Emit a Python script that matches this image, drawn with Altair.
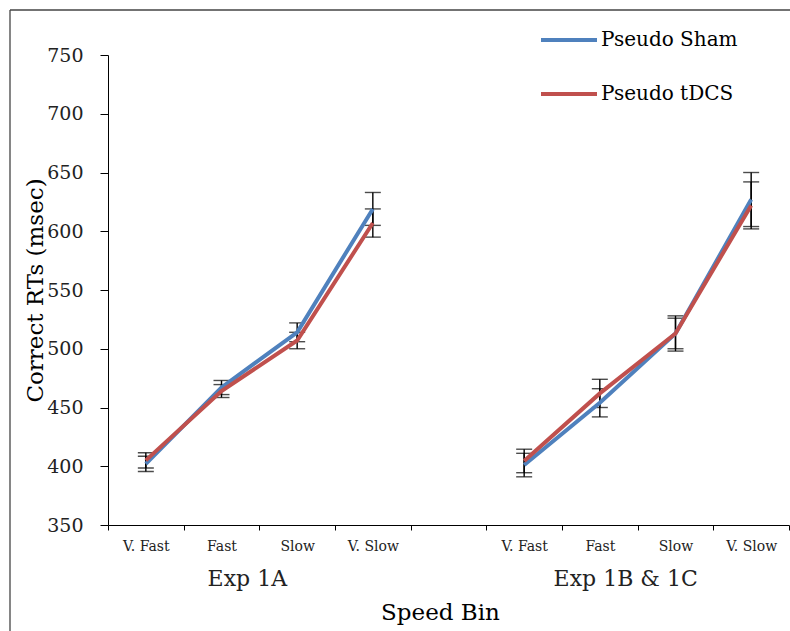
import altair as alt
import pandas as pd

# ---- data ----
bins = ["V. Fast", "Fast", "Slow", "V. Slow"]
exps = ["1A", "1B"]
exp_titles = ["Exp 1A", "Exp 1B & 1C"]
series = ["Pseudo Sham", "Pseudo tDCS"]

sham_1a = [402, 467, 514, 619]
sham_1a_err = [6.5, 6, 8, 14]
tdcs_1a = [405, 464, 507, 607]
tdcs_1a_err = [6.5, 5.5, 7, 12]
sham_1b = [401, 454, 513, 627]
sham_1b_err = [10, 12, 15, 23]
tdcs_1b = [404.5, 462, 513, 622]
tdcs_1b_err = [10, 12, 13, 20]

y_ticks = [350, 400, 450, 500, 550, 600, 650, 700, 750]

# ---- build table ----
domain = [f"1A|{b}" for b in bins] + ["gap"] + [f"1B|{b}" for b in bins]
rows = []
for s, e, vals, errs in [
    (series[0], "1A", sham_1a, sham_1a_err),
    (series[1], "1A", tdcs_1a, tdcs_1a_err),
    (series[0], "1B", sham_1b, sham_1b_err),
    (series[1], "1B", tdcs_1b, tdcs_1b_err),
]:
    for i, (b, v, er) in enumerate(zip(bins, vals, errs)):
        rows.append({"series": s, "exp": e, "cat": f"{e}|{b}", "idx": i,
                     "rt": v, "lo": v - er, "hi": v + er})
df = pd.DataFrame(rows)
groups = pd.DataFrame({"cat": ["1A|Fast", "1B|Fast"], "label": exp_titles})

FONT = "DejaVu Serif"

xscale = alt.Scale(domain=domain, paddingInner=0, paddingOuter=0)
xenc = alt.X("cat:N", scale=xscale,
             axis=alt.Axis(title="Speed Bin", tickBand="extent", labelAngle=0,
                           labelExpr="isString(datum.value) && indexof(datum.value,'|')>=0 ? split(datum.value,'|')[1] : ''",
                           labelFont=FONT, labelFontSize=14, labelColor="#222",
                           labelPadding=9, tickSize=5, tickColor="black",
                           domainColor="black", grid=False,
                           titleFont=FONT, titleFontSize=23, titleFontWeight="normal",
                           titleColor="black", titleX=332, titleY=94,
                           titleBaseline="alphabetic", titleAlign="center"))
yscale = alt.Scale(domain=[350, 750], nice=False, zero=False)
yaxis = alt.Axis(title="Correct RTs (msec)", values=y_ticks, grid=False,
                 labelFont=FONT, labelFontSize=19, labelColor="#222",
                 labelPadding=17, tickSize=8, tickColor="black", domainColor="black",
                 titleFont=FONT, titleFontSize=23, titleFontWeight="normal",
                 titleColor="black", titleX=-73, titleY=235, titleAngle=270,
                 titleBaseline="middle", titleAlign="center")

base = alt.Chart(df)

err_rule = base.mark_rule(color="black", strokeWidth=1.4).encode(
    x=xenc, y=alt.Y("lo:Q", scale=yscale, axis=yaxis), y2="hi:Q")
cap_lo = base.mark_tick(color="black", size=16, thickness=1.4, orient="horizontal").encode(
    x=xenc, y=alt.Y("lo:Q", scale=yscale, axis=yaxis))
cap_hi = base.mark_tick(color="black", size=16, thickness=1.4, orient="horizontal").encode(
    x=xenc, y=alt.Y("hi:Q", scale=yscale, axis=yaxis))

lines = base.mark_line(strokeWidth=4).encode(
    x=xenc,
    y=alt.Y("rt:Q", scale=yscale, axis=yaxis),
    color=alt.Color("series:N",
                    scale=alt.Scale(domain=series, range=["#4F81BD", "#C0504D"]),
                    legend=alt.Legend(title=None, orient="none", legendX=431, legendY=-45,
                                      symbolType="stroke", symbolSize=3136,
                                      symbolStrokeWidth=4, labelFont=FONT,
                                      labelFontSize=20, labelColor="black",
                                      labelOffset=2, rowPadding=14, padding=0)),
    detail="exp:N",
    order="idx:Q",
)

group_text = alt.Chart(groups).mark_text(
    font=FONT, fontSize=22, color="#222", baseline="alphabetic", dx=-12
).encode(x=alt.X("cat:N", scale=xscale, bandPosition=1),
         y=alt.value(531), text="label:N")

frame = alt.Chart(pd.DataFrame({"a": [0]}))
frame_left = frame.mark_rule(color="#444", strokeWidth=1.3).encode(
    x=alt.value(-98), y=alt.value(-45), y2=alt.value(700))
frame_top = frame.mark_rule(color="#444", strokeWidth=1.3).encode(
    x=alt.value(-98), x2=alt.value(800), y=alt.value(-45))

chart = alt.layer(err_rule, cap_lo, cap_hi, lines, group_text, frame_left, frame_top).properties(
    width=681, height=470,
    autosize=alt.AutoSizeParams(type="none"),
    padding={"left": 108, "top": 55, "right": 1, "bottom": 106},
    background="white",
).configure_view(strokeWidth=0)

chart.save("out.html", embed_options={"renderer": "svg", "actions": False})
